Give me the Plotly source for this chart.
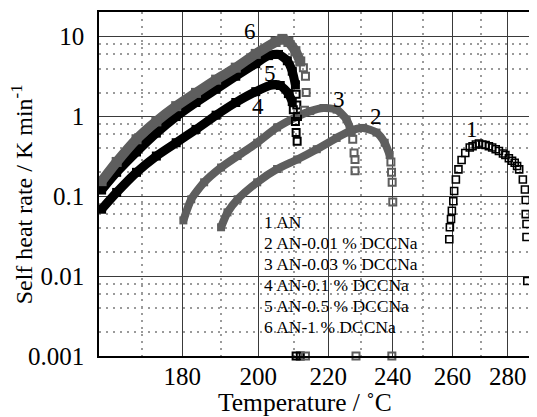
import math
import plotly.graph_objects as go

# ---------------- data (temperature in deg C, self heat rate in K/min) ----------------
# Curve 1: AN
t1 = [258.9, 259.1, 259.5, 259.8, 260.3, 260.6, 261.2, 262.1, 263.2, 264.5, 266.1, 267.1,
      268.3, 269.4, 270.6, 271.8, 273.0, 274.2, 275.5, 276.7, 278.2, 279.1, 280.4, 281.6,
      282.6, 283.5, 284.3, 285.7, 286.5, 286.8, 286.8, 287.1, 287.1, 287.4]
r1 = [0.029, 0.041, 0.052, 0.066, 0.087, 0.117, 0.163, 0.218, 0.285, 0.35, 0.41, 0.425,
      0.447, 0.46, 0.447, 0.44, 0.425, 0.41, 0.39, 0.37, 0.345, 0.33, 0.30, 0.28,
      0.264, 0.24, 0.218, 0.163, 0.122, 0.09, 0.06, 0.045, 0.031, 0.0087]

# Curve 2: AN-0.01 % DCCNa
t2 = [190.0, 191.7, 194.4, 199.7, 205.2, 210.9, 216.6, 222.5, 226.5, 230.6, 234.8, 237.4, 239.0]
r2 = [0.041, 0.063, 0.092, 0.15, 0.22, 0.29, 0.39, 0.54, 0.66, 0.72, 0.63, 0.47, 0.33]
t2_tail = [239.4, 239.6, 239.8, 240.0, 239.7]
r2_tail = [0.27, 0.20, 0.15, 0.085, 0.001]

# Curve 3: AN-0.03 % DCCNa
t3 = [180.3, 182.3, 185.6, 190.0, 194.4, 199.7, 205.2, 210.9, 214.7, 218.6, 222.5, 225.5, 227.1]
r3 = [0.05, 0.092, 0.15, 0.23, 0.32, 0.47, 0.73, 1.0, 1.17, 1.28, 1.22, 0.92, 0.63]
t3_tail = [227.4, 227.8, 228.1, 228.1, 228.4]
r3_tail = [0.52, 0.35, 0.29, 0.21, 0.001]

# Curve 4: AN-0.1 % DCCNa
t4 = [160.6, 164.1, 168.8, 173.6, 178.5, 183.5, 188.7, 193.9, 199.3, 203.9, 206.1, 208.4, 209.5]
r4 = [0.069, 0.112, 0.2, 0.32, 0.47, 0.69, 1.04, 1.5, 2.05, 2.5, 2.45, 1.94, 1.54]
t4_tail = [209.8, 210.4, 210.6, 210.9, 210.6]
r4_tail = [1.22, 0.87, 0.63, 0.49, 0.001]

# Curve 5: AN-0.5 % DCCNa
t5 = [160.6, 164.1, 168.8, 173.6, 178.5, 183.5, 188.7, 193.9, 199.3, 202.8, 205.6, 208.1, 209.5, 210.4]
r5 = [0.12, 0.2, 0.36, 0.62, 1.0, 1.5, 2.2, 3.2, 4.6, 5.8, 6.0, 5.0, 3.7, 2.5]
t5_tail = [210.6, 210.8, 211.0, 211.8]
r5_tail = [1.9, 1.4, 1.0, 0.001]

# Curve 6: AN-1 % DCCNa
t6 = [160.6, 164.1, 168.8, 173.6, 178.5, 183.5, 188.7, 193.9, 199.3, 204.8, 206.7, 208.4, 210.4, 211.8]
r6 = [0.155, 0.27, 0.52, 0.87, 1.35, 1.98, 2.9, 4.1, 6.1, 8.6, 9.4, 8.6, 6.6, 4.9]
t6_tail = [212.7, 213.3, 213.5, 213.0, 213.3]
r6_tail = [4.1, 3.2, 2.0, 1.2, 0.001]

legend_labels = ["1 AN", "2 AN-0.01 % DCCNa", "3 AN-0.03 % DCCNa",
                 "4 AN-0.1 % DCCNa", "5 AN-0.5 % DCCNa", "6 AN-1 % DCCNa"]
curve_numbers = ["1", "2", "3", "4", "5", "6"]
# label anchor positions (T, rate) for the curve numbers
label_t = [266.9, 234.6, 223.2, 199.8, 203.1, 197.6]
label_r = [0.69, 1.0, 1.63, 1.33, 3.45, 11.5]

x_ticks = [180, 200, 220, 240, 260, 280]
x_minor = [170, 190, 210, 230, 250, 270, 290]
y_ticks = [0.001, 0.01, 0.1, 1, 10]
y_tick_text = ["0.001", "0.01", "0.1", "1", "10"]
y_minor = [m * d for d in (0.001, 0.01, 0.1, 1, 10) for m in (2, 4, 6, 8)]
x_range_T = [160, 290]
y_range = [-3, 1.31]

# ---------------- helpers ----------------
def tx(T):
    """Temperature axis is reciprocal (Arrhenius-type): position ~ -1000/T[K]."""
    return -1000.0 / (T + 273.15)

def txl(ts):
    return [tx(t) for t in ts]

BLACK = "#000000"
GRAY = "#5e5e5e"
FONT = "Liberation Serif, Times New Roman, serif"

# page body has an 8px margin; figure is sized to fill the rest of the window
W, H = 529, 409
ML, MR, MT, MB = 91, 1, 4, 61
PW, PH = W - ML - MR, H - MT - MB   # plot area size in px

def px_to_paper_x(px):   # px measured in window coordinates
    return (px - 8 - ML) / PW

def py_to_paper_y(py):
    return (H - MB - (py - 8)) / PH

fig = go.Figure()

bodies = [
    (t2, r2, GRAY, 8), (t3, r3, GRAY, 8), (t4, r4, BLACK, 9), (t5, r5, BLACK, 9), (t6, r6, GRAY, 10),
]
for ts, rs, col, lw in bodies:
    fig.add_trace(go.Scatter(
        x=txl(ts), y=rs, mode="lines+markers",
        line=dict(color=col, width=lw, shape="spline", smoothing=0.6),
        marker=dict(symbol="square", size=lw, color=col),
        showlegend=False, hoverinfo="skip"))

tails = [
    (t2_tail, r2_tail, GRAY), (t3_tail, r3_tail, GRAY), (t4_tail, r4_tail, BLACK),
    (t5_tail, r5_tail, BLACK), (t6_tail, r6_tail, GRAY),
]
for ts, rs, col in tails:
    fig.add_trace(go.Scatter(
        x=txl(ts), y=rs, mode="markers", cliponaxis=False,
        marker=dict(symbol="square-open", size=7, color=col, line=dict(width=2, color=col)),
        showlegend=False, hoverinfo="skip"))

fig.add_trace(go.Scatter(
    x=txl(t1), y=r1, mode="markers",
    marker=dict(symbol="square-open", size=7, color=BLACK, line=dict(width=1.6, color=BLACK)),
    showlegend=False, hoverinfo="skip"))

# white box behind the legend text (covers grid, below data)
fig.add_shape(type="rect", xref="paper", yref="paper",
              x0=px_to_paper_x(254), x1=px_to_paper_x(432),
              y0=py_to_paper_y(343), y1=py_to_paper_y(227),
              fillcolor="white", line=dict(width=0), layer="between")

# legend text
leg_top_py = 222
for i, lab in enumerate(legend_labels):
    py = leg_top_py + i * 21
    fig.add_annotation(text=lab, xref="paper", yref="paper",
                       x=px_to_paper_x(263), y=py_to_paper_y(py),
                       xanchor="left", yanchor="middle", showarrow=False,
                       font=dict(family=FONT, size=17.5, color="black"))

# curve numbers (log axis: annotation y is given in log10 units)
for lab, lt, lr in zip(curve_numbers, label_t, label_r):
    fig.add_annotation(text=lab, x=tx(lt), y=math.log10(lr), xref="x", yref="y",
                       xanchor="center", yanchor="middle", showarrow=False,
                       font=dict(family=FONT, size=23, color="black"))

# axis titles
fig.add_annotation(text="Temperature / ˚C", xref="paper", yref="paper",
                   x=px_to_paper_x(306), y=py_to_paper_y(402),
                   xanchor="center", yanchor="middle", showarrow=False, borderpad=0,
                   font=dict(family=FONT, size=25.5, color="black"))
fig.add_annotation(text="Self heat rate / K min<sup>-1</sup>", xref="paper", yref="paper",
                   x=px_to_paper_x(22), y=py_to_paper_y(194), textangle=-90,
                   xanchor="center", yanchor="middle", showarrow=False, borderpad=0,
                   font=dict(family=FONT, size=24, color="black"))

fig.update_layout(
    width=W, height=H, autosize=False,
    margin=dict(l=ML, r=MR, t=MT, b=MB),
    paper_bgcolor="white", plot_bgcolor="white",
    font=dict(family=FONT, size=25, color="black"),
    showlegend=False,
)
fig.update_xaxes(
    range=[tx(x_range_T[0]), tx(x_range_T[1])],
    tickmode="array", tickvals=txl(x_ticks), ticktext=[str(v) for v in x_ticks],
    showgrid=True, gridcolor="#3a3a3a", gridwidth=1.3,
    minor=dict(tickmode="array", tickvals=txl(x_minor), showgrid=True,
               gridcolor="#9a9a9a", gridwidth=1.5, griddash="2px,5px"),
    showline=True, linecolor="black", linewidth=1.5, mirror=True,
    ticks="", ticklabelstandoff=-3, zeroline=False, tickfont=dict(size=25, family=FONT),
)
fig.update_yaxes(
    type="log", range=y_range,
    tickmode="array", tickvals=y_ticks, ticktext=y_tick_text,
    showgrid=True, gridcolor="#3a3a3a", gridwidth=1.3,
    minor=dict(tickmode="array", tickvals=y_minor, showgrid=True,
               gridcolor="#9a9a9a", gridwidth=1.5, griddash="2px,5px"),
    showline=True, linecolor="black", linewidth=1.5, mirror=True,
    ticks="", ticklabelstandoff=8, zeroline=False, tickfont=dict(size=25, family=FONT),
)

fig.write_html("out.html")
